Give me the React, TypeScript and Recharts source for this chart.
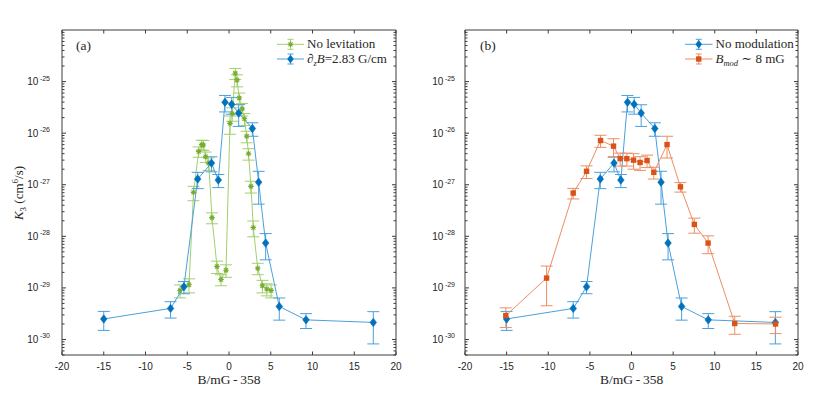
import React from "react";
import { ComposedChart, Line, XAxis, YAxis, ErrorBar } from "recharts";

// x axis ticks (B/mG - 358)
const xTicks = [-20, -15, -10, -5, 0, 5, 10, 15, 20];
const yDomain = [5e-31, 1e-24];

// No levitation (green, panel a)
const greenB = [-5.87, -4.79, -4.25, -3.63, -3.27, -3.08, -2.79, -2.43, -2.04, -1.44, -0.96, -0.36, 0.12, 0.39, 0.75, 0.96, 1.23, 1.57, 1.85, 2.12, 2.34, 2.63, 2.91, 3.44, 4.0, 4.53, 5.04];
const greenK = [8.9e-30, 1.15e-29, 7.1e-28, 4.4e-27, 6.0e-27, 5.9e-27, 3.5e-27, 2.6e-27, 2.3e-28, 2.6e-29, 1.45e-29, 2.2e-29, 1.55e-26, 2.4e-26, 1.45e-25, 1.07e-25, 4.8e-26, 2.95e-26, 1.9e-26, 8.7e-27, 4.0e-27, 9.3e-28, 1.48e-28, 2.4e-29, 1.1e-29, 9.5e-30, 8.9e-30];
const greenErr = [2.5e-30, 3.5e-30, 2.2e-28, 1.0e-27, 1.3e-27, 1.3e-27, 8e-28, 7e-28, 5.5e-29, 7e-30, 3.5e-30, 6e-30, 6e-27, 7e-27, 3.5e-26, 2.8e-26, 1.2e-26, 8e-27, 5e-27, 2.2e-27, 1e-27, 2.4e-28, 5e-29, 6e-30, 3e-30, 2.5e-30, 2.5e-30];

// dzB = 2.83 G/cm, also "No modulation" (blue, both panels)
const blueB = [-15.0, -7.0, -5.4, -3.75, -2.1, -1.28, -0.48, 0.32, 1.16, 2.8, 3.55, 4.39, 6.02, 9.22, 17.28];
const blueK = [2.5e-30, 4.0e-30, 1.05e-29, 1.29e-27, 2.63e-27, 1.23e-27, 3.98e-26, 3.63e-26, 2.45e-26, 1.23e-26, 1.12e-27, 7.4e-29, 4.37e-30, 2.4e-30, 2.14e-30];
const blueErr = [1.0e-30, 1.4e-30, 2.8e-30, 4.5e-28, 8.5e-28, 3.5e-28, 1.4e-26, 1.3e-26, 1.1e-26, 3.6e-27, 7e-28, 3.9e-29, 2e-30, 7.7e-31, 1.32e-30];

// B_mod ~ 8 mG (orange, panel b)
const orangeB = [-15.1, -10.2, -7.0, -5.4, -3.72, -2.16, -1.36, -0.56, 0.24, 1.03, 1.87, 2.68, 4.27, 5.88, 7.55, 9.2, 12.4, 17.3];
const orangeK = [2.9e-30, 1.55e-29, 6.9e-28, 1.82e-27, 7.2e-27, 5.6e-27, 3.2e-27, 3.2e-27, 3.0e-27, 2.7e-27, 2.95e-27, 1.74e-27, 6.0e-27, 9.1e-28, 1.7e-28, 7.4e-29, 2.04e-30, 2.0e-30];
const orangeErr = [1.2e-30, 1.1e-29, 1.6e-28, 5e-28, 1.9e-27, 2.2e-27, 9e-28, 9e-28, 1e-27, 8e-28, 8e-28, 4.5e-28, 2.7e-27, 1.9e-28, 5.5e-29, 2.8e-29, 7.8e-31, 7e-31];

const toRows = (b: number[], k: number[], e: number[]) =>
  b.map((x, i) => ({ x, k: k[i], err: e[i] }));

const greenData = toRows(greenB, greenK, greenErr);
const blueData = toRows(blueB, blueK, blueErr);
const orangeData = toRows(orangeB, orangeK, orangeErr);

// minor + major ticks on the log axis
const yTicks: number[] = [];
for (let n = -31; n <= -25; n++) {
  for (let m = 1; m <= 9; m++) {
    const v = m * Math.pow(10, n);
    if (v >= yDomain[0] && v < 9.9e-25) yTicks.push(v);
  }
}

const AX = "#3c3c3c";
const TXT = "#262626";
const SANS = "'Liberation Sans', Arial, sans-serif";
const SERIF = "'Liberation Serif', 'DejaVu Serif', serif";

const BLUE = "#0072BD";
const BLUE_L = "#4aa0dc";
const GREEN = "#77AC30";
const GREEN_L = "#a3cf6e";
const ORANGE = "#D95319";
const ORANGE_L = "#ee8d62";

const isMajor = (v: number) => {
  const lg = Math.log10(v);
  return Math.abs(lg - Math.round(lg)) < 1e-6;
};

const LeftTick = (props: any) => {
  const { x, y, payload, gap } = props;
  const v = payload.value;
  const major = isMajor(v);
  return (
    <g>
      <path d={`M${x},${y}H${x + (major ? 4 : 2.5)}`} stroke={AX} strokeWidth={1} />
      {major && (
        <text x={x - gap} y={y + 3.5} textAnchor="end" fontFamily={SANS} fontSize={10} fill={TXT}>
          10
          <tspan dx={1.5} dy={-4.5} fontSize={7}>
            {Math.round(Math.log10(v))}
          </tspan>
        </text>
      )}
    </g>
  );
};

const RightTick = (props: any) => {
  const { x, y, payload } = props;
  const major = isMajor(payload.value);
  return <path d={`M${x - (major ? 4 : 2.5)},${y}H${x}`} stroke={AX} strokeWidth={1} />;
};

const BottomTick = (props: any) => {
  const { x, y, payload } = props;
  return (
    <g>
      <path d={`M${x},${y}V${y - 3.5}`} stroke={AX} strokeWidth={1} />
      <text x={x} y={y + 14.5} textAnchor="middle" fontFamily={SANS} fontSize={10} fill={TXT}>
        {payload.value}
      </text>
    </g>
  );
};

const TopTick = (props: any) => {
  const { x, y } = props;
  return <path d={`M${x},${y}V${y + 3.5}`} stroke={AX} strokeWidth={1} />;
};

const diamond = (cx: number, cy: number) =>
  `M${cx},${cy - 4.2}L${cx + 3.3},${cy}L${cx},${cy + 4.2}L${cx - 3.3},${cy}Z`;

const DiamondDot = (props: any) => {
  const { cx, cy, index } = props;
  if (cx == null || cy == null) return <g key={`d-${index}`} />;
  return <path key={`d-${index}`} d={diamond(cx, cy)} fill={BLUE} stroke={BLUE} strokeWidth={0.6} />;
};

const SquareDot = (props: any) => {
  const { cx, cy, index } = props;
  if (cx == null || cy == null) return <g key={`s-${index}`} />;
  return <rect key={`s-${index}`} x={cx - 2.7} y={cy - 2.7} width={5.4} height={5.4} fill={ORANGE} />;
};

const asterisk = (cx: number, cy: number, r: number) => {
  const d = r * 0.72;
  return `M${cx - r},${cy}L${cx + r},${cy}M${cx},${cy - r}L${cx},${cy + r}M${cx - d},${cy - d}L${cx + d},${cy + d}M${cx - d},${cy + d}L${cx + d},${cy - d}`;
};

const StarDot = (props: any) => {
  const { cx, cy, index } = props;
  if (cx == null || cy == null) return <g key={`a-${index}`} />;
  return <path key={`a-${index}`} d={asterisk(cx, cy, 2.8)} stroke={GREEN} strokeWidth={1.1} fill="none" />;
};

interface PanelProps {
  left: number;
  yAxisWidth: number;
  rightMargin: number;
  labelGap: number;
  children: React.ReactNode;
}

const PLOT_TOP = 29;
const PLOT_BOTTOM = 355;

const Panel: React.FC<PanelProps> = ({ left, yAxisWidth, rightMargin, labelGap, children }) => (
  <div style={{ position: "absolute", left, top: 0, width: 415, height: 399 }}>
    <ComposedChart width={415} height={399} margin={{ top: PLOT_TOP, right: rightMargin, bottom: 0, left: 0 }}>
      <XAxis
        type="number"
        dataKey="x"
        domain={[-20, 20]}
        ticks={xTicks}
        interval={0}
        allowDataOverflow
        height={399 - PLOT_BOTTOM}
        tickSize={0}
        tickMargin={0}
        axisLine={{ stroke: AX, strokeWidth: 1 }}
        tickLine={false}
        tick={<BottomTick />}
      />
      <XAxis
        xAxisId="top"
        orientation="top"
        type="number"
        dataKey="x"
        domain={[-20, 20]}
        ticks={xTicks}
        interval={0}
        allowDataOverflow
        height={1}
        tickSize={0}
        tickMargin={0}
        axisLine={{ stroke: AX, strokeWidth: 1 }}
        tickLine={false}
        tick={<TopTick />}
      />
      <YAxis
        scale="log"
        type="number"
        domain={yDomain}
        ticks={yTicks}
        interval={0}
        allowDataOverflow
        width={yAxisWidth}
        tickSize={0}
        tickMargin={0}
        axisLine={{ stroke: AX, strokeWidth: 1 }}
        tickLine={false}
        tick={<LeftTick gap={labelGap} />}
      />
      <YAxis
        yAxisId="right"
        orientation="right"
        scale="log"
        type="number"
        domain={yDomain}
        ticks={yTicks}
        interval={0}
        allowDataOverflow
        width={1}
        tickSize={0}
        tickMargin={0}
        axisLine={{ stroke: AX, strokeWidth: 1 }}
        tickLine={false}
        tick={<RightTick />}
      />
      {children}
    </ComposedChart>
  </div>
);

const LegendRow = ({ x1, x2, y, kind, children }: any) => {
  const cx = (x1 + x2) / 2;
  const color = kind === "green" ? GREEN : kind === "blue" ? BLUE : ORANGE;
  const light = kind === "green" ? GREEN_L : kind === "blue" ? BLUE_L : ORANGE_L;
  return (
    <g>
      <line x1={x1} x2={x2} y1={y} y2={y} stroke={light} strokeWidth={1} />
      <line x1={cx} x2={cx} y1={y - 5} y2={y + 5} stroke={light} strokeWidth={1} />
      <line x1={cx - 3} x2={cx + 3} y1={y - 5} y2={y - 5} stroke={light} strokeWidth={1} />
      <line x1={cx - 3} x2={cx + 3} y1={y + 5} y2={y + 5} stroke={light} strokeWidth={1} />
      {kind === "green" && <path d={asterisk(cx, y, 2.8)} stroke={color} strokeWidth={1.1} fill="none" />}
      {kind === "blue" && <path d={diamond(cx, y)} fill={color} />}
      {kind === "orange" && <rect x={cx - 2.7} y={y - 2.7} width={5.4} height={5.4} fill={color} />}
      <text x={x2 + 3} y={y + 4} fontFamily={SERIF} fontSize={13} fill={TXT}>
        {children}
      </text>
    </g>
  );
};

export default function App() {
  return (
    <div style={{ position: "absolute", left: 0, top: 0, width: 830, height: 399, background: "#fff" }}>
      {/* (a) levitation */}
      <Panel left={0} yAxisWidth={62} rightMargin={18} labelGap={12}>
        <Line
          data={greenData}
          dataKey="k"
          type="linear"
          stroke={GREEN_L}
          strokeWidth={1}
          dot={StarDot}
          activeDot={false}
          isAnimationActive={false}
        >
          <ErrorBar dataKey="err" width={6} stroke={GREEN_L} strokeWidth={1} direction="y" />
        </Line>
        <Line
          data={blueData}
          dataKey="k"
          type="linear"
          stroke={BLUE_L}
          strokeWidth={1}
          dot={DiamondDot}
          activeDot={false}
          isAnimationActive={false}
        >
          <ErrorBar dataKey="err" width={6} stroke={BLUE_L} strokeWidth={1} direction="y" />
        </Line>
      </Panel>

      {/* (b) modulation */}
      <Panel left={415} yAxisWidth={50} rightMargin={31} labelGap={10}>
        <Line
          data={blueData}
          dataKey="k"
          type="linear"
          stroke={BLUE_L}
          strokeWidth={1}
          dot={DiamondDot}
          activeDot={false}
          isAnimationActive={false}
        >
          <ErrorBar dataKey="err" width={6} stroke={BLUE_L} strokeWidth={1} direction="y" />
        </Line>
        <Line
          data={orangeData}
          dataKey="k"
          type="linear"
          stroke={ORANGE_L}
          strokeWidth={1}
          dot={SquareDot}
          activeDot={false}
          isAnimationActive={false}
        >
          <ErrorBar dataKey="err" width={6} stroke={ORANGE_L} strokeWidth={1} direction="y" />
        </Line>
      </Panel>

      <svg width={830} height={399} style={{ position: "absolute", left: 0, top: 0, pointerEvents: "none" }}>
        <text x={76} y={49.5} fontFamily={SERIF} fontSize={13.5} fill={TXT}>(a)</text>
        <text x={480} y={49.5} fontFamily={SERIF} fontSize={13.5} fill={TXT}>(b)</text>

        <LegendRow x1={277} x2={304} y={44.3} kind="green">No levitation</LegendRow>
        <LegendRow x1={277} x2={304} y={59} kind="blue">
          <tspan fontStyle="italic">∂</tspan>
          <tspan fontStyle="italic" fontSize={8.5} dy={3}>z</tspan>
          <tspan fontStyle="italic" dy={-3}>B</tspan>
          <tspan>=2.83 G/cm</tspan>
        </LegendRow>
        <LegendRow x1={685} x2={712.5} y={44.3} kind="blue">No modulation</LegendRow>
        <LegendRow x1={685} x2={712.5} y={59} kind="orange">
          <tspan fontStyle="italic">B</tspan>
          <tspan fontStyle="italic" fontSize={8.5} dy={3}>mod</tspan>
          <tspan dy={-3}> ∼ 8 mG</tspan>
        </LegendRow>

        <text x={229} y={384} textAnchor="middle" fontFamily={SERIF} fontSize={13.5} fill={TXT}>
          B/mG{"\u2009-\u2009"}358
        </text>
        <text x={631.7} y={384} textAnchor="middle" fontFamily={SERIF} fontSize={13.5} fill={TXT}>
          B/mG{"\u2009-\u2009"}358
        </text>

        <text
          x={23}
          y={193}
          transform="rotate(-90, 23, 193)"
          textAnchor="middle"
          fontFamily={SERIF}
          fontSize={13}
          fill={TXT}
        >
          <tspan fontStyle="italic">K</tspan>
          <tspan fontSize={9} dy={3}>3</tspan>
          <tspan dy={-3}> (cm</tspan>
          <tspan fontSize={9} dy={-5}>6</tspan>
          <tspan dy={5}>/s)</tspan>
        </text>
      </svg>
    </div>
  );
}
